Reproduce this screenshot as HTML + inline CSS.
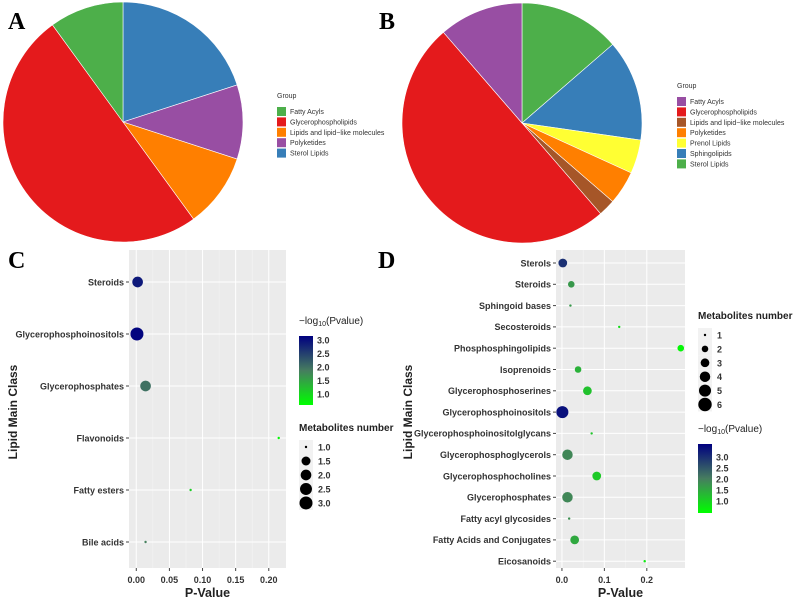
<!DOCTYPE html>
<html><head><meta charset="utf-8"><style>
body{margin:0;background:#fff;width:793px;height:601px;overflow:hidden}
svg{display:block;font-family:"Liberation Sans",sans-serif}
.lt{font-family:"Liberation Serif",serif;font-weight:bold;font-size:24px}
.tk{font-size:9px;font-weight:bold;fill:#333}
.lg{font-size:7px;fill:#333}
</style></head><body>
<svg id="s" width="793" height="601">
<text class="lt" x="8" y="29">A</text>
<text class="lt" x="379" y="29">B</text>
<text class="lt" x="8" y="268">C</text>
<text class="lt" x="378" y="268">D</text>
<g id="g"></g>
</svg>
<script>
const pieACats=["Fatty Acyls","Glycerophospholipids","Lipids and lipid\u2212like molecules","Polyketides","Sterol Lipids"];
const pieAVals=[1,5,1,1,2];
const pieAColors=["#4daf4a","#e41a1c","#ff7f00","#984ea3","#377eb8"];
const pieBCats=["Fatty Acyls","Glycerophospholipids","Lipids and lipid\u2212like molecules","Polyketides","Prenol Lipids","Sphingolipids","Sterol Lipids"];
const pieBVals=[5,22,1,2,2,6,6];
const pieBColors=["#984ea3","#e41a1c","#a65628","#ff7f00","#ffff33","#377eb8","#4daf4a"];

const cCats=["Steroids","Glycerophosphoinositols","Glycerophosphates","Flavonoids","Fatty esters","Bile acids"];
const cP=[0.002,0.001,0.014,0.215,0.082,0.014];
const cLog=[2.9,3.1,2.0,0.67,1.09,1.85];
const cN=[2,3,2,1,1,1];
const cTicks=[0,0.05,0.1,0.15,0.2];
const cTickLabels=["0.00","0.05","0.10","0.15","0.20"];

const dCats=["Sterols","Steroids","Sphingoid bases","Secosteroids","Phosphosphingolipids","Isoprenoids","Glycerophosphoserines","Glycerophosphoinositols","Glycerophosphoinositolglycans","Glycerophosphoglycerols","Glycerophosphocholines","Glycerophosphates","Fatty acyl glycosides","Fatty Acids and Conjugates","Eicosanoids"];
const dP=[0.002,0.022,0.02,0.135,0.28,0.038,0.06,0.001,0.07,0.013,0.082,0.013,0.017,0.03,0.195];
const dLog=[3.0,1.7,1.7,0.87,0.55,1.4,1.2,3.4,1.15,1.9,1.1,1.9,1.8,1.5,0.7];
const dN=[3,2,1,1,2,2,3,5,1,4,3,4,1,3,1];
const dTicks=[0,0.1,0.2];
const dTickLabels=["0.0","0.1","0.2"];

const NS="http://www.w3.org/2000/svg";
const G=document.getElementById('g');
function mk(t,a,p){const e=document.createElementNS(NS,t);for(const k in a)e.setAttribute(k,a[k]);(p||G).appendChild(e);return e;}
function txt(x,y,s,a){const e=mk('text',Object.assign({x:x,y:y},a||{}));e.textContent=s;return e;}

function pie(cx,cy,r,vals,cols,name){
  const tot=vals.reduce((a,b)=>a+b,0);let a0=0;
  for(let i=vals.length-1;i>=0;i--){
    const a1=a0+vals[i]/tot*2*Math.PI;
    const x0=cx+r*Math.sin(a0),y0=cy-r*Math.cos(a0),x1=cx+r*Math.sin(a1),y1=cy-r*Math.cos(a1);
    const p=mk('path',{d:`M${cx},${cy}L${x0},${y0}A${r},${r} 0 ${a1-a0>Math.PI?1:0} 1 ${x1},${y1}Z`,fill:cols[i],stroke:'#fff','stroke-width':0.6});
    
    
    a0=a1;
  }
}
function legend(x,y,cats,cols,name){
  const t=txt(x,y,'Group',{class:'lg','font-size':'7.5'});
  
  
  cats.forEach((c,i)=>{
    const yy=y+9+i*10.4;
    const r=mk('rect',{x:x,y:yy,width:9,height:9,fill:cols[i]});
    
    
    const tt=txt(x+13,yy+7,c,{class:'lg'});
    
    
  });
}
pie(123,122,120,pieAVals,pieAColors,'pie-a');
legend(277,98,pieACats,pieAColors,'pie-a');
pie(522,123,120,pieBVals,pieBColors,'pie-b');
legend(677,88,pieBCats,pieBColors,'pie-b');

function col(v,lo,hi){
  let t=Math.max(0,Math.min(1,(v-lo)/(hi-lo)));
  const st=[[0,[0,255,0]],[0.5,[70,125,95]],[1,[0,0,128]]];
  let a=st[0],b=st[1];if(t>0.5){a=st[1];b=st[2];}
  const u=(t-a[0])/(b[0]-a[0]);
  const c=a[1].map((v,i)=>Math.round(v+(b[1][i]-v)*u));
  return `rgb(${c})`;
}

function dot(o){
  const {x0,x1,y0,y1,xmin,xmax,cats,P,L,N,ticks,tl,rOf,lo,hi,name,rowTop,rowStep,fs}=o;
  const sx=v=>x0+(v-xmin)/(xmax-xmin)*(x1-x0);
  const bg=mk('rect',{x:x0,y:y0,width:x1-x0,height:y1-y0,fill:'#ebebeb'});
  
  
  for(let i=0;i<ticks.length;i++){
    if(i<ticks.length-1){const m=(ticks[i]+ticks[i+1])/2;mk('line',{x1:sx(m),x2:sx(m),y1:y0,y2:y1,stroke:'#f5f5f5','stroke-width':0.5});}
    mk('line',{x1:sx(ticks[i]),x2:sx(ticks[i]),y1:y0,y2:y1,stroke:'#fff','stroke-width':1});
    mk('line',{x1:sx(ticks[i]),x2:sx(ticks[i]),y1:y1,y2:y1+3,stroke:'#444'});
    const t=txt(sx(ticks[i]),y1+15,tl[i],{class:'tk','text-anchor':'middle','font-size':'10'});
    
    
  }
  cats.forEach((c,i)=>{
    const y=rowTop+i*rowStep;
    mk('line',{x1:x0,x2:x1,y1:y,y2:y,stroke:'#fff','stroke-width':1});
    mk('line',{x1:x0-3,x2:x0,y1:y,y2:y,stroke:'#444'});
    const t=txt(x0-5,y+3.3,c,{class:'tk','text-anchor':'end','font-size':fs});
    
    
  });
  cats.forEach((c,i)=>{
    const y=rowTop+i*rowStep;
    const p=mk('circle',{cx:sx(P[i]),cy:y,r:rOf(N[i]),fill:col(L[i],lo,hi)});
    
    
  });
  const xt=txt((x0+x1)/2,y1+29,'P-Value',{'font-size':'12.5','font-weight':'bold','text-anchor':'middle',fill:'#222'});
  
  
}
function colorbar(x,y,h,lo,hi,labs,name){
  const id=name+'grad';
  const d=mk('defs',{});const lg=mk('linearGradient',{id:id,x1:0,y1:1,x2:0,y2:0},d);
  for(let k=0;k<=10;k++)mk('stop',{offset:k/10,'stop-color':col(lo+(hi-lo)*k/10,lo,hi)},lg);
  const t=txt(x,y-8,'\u2212log',{'font-size':'10',fill:'#222'});
  const s=mk('tspan',{'font-size':'7',dy:'2'},t);s.textContent='10';
  const s2=mk('tspan',{dy:'-2'},t);s2.textContent='(Pvalue)';
  
  
  const r=mk('rect',{x:x,y:y+4,width:14,height:h,fill:`url(#${id})`});
  
  
  labs.forEach(v=>{
    const yy=y+4+h-(v-lo)/(hi-lo)*h;
    const l=txt(x+18,yy+3.5,v.toFixed(1),{class:'tk','font-size':'9.5'});
    
    
  });
}
function sizeLegend(x,y,vals,labs,rOf,step,name){
  const t=txt(x,y,'Metabolites number',{'font-size':'10','font-weight':'bold',fill:'#222'});
  
  
  vals.forEach((v,i)=>{
    const yy=y+16+i*step;
    mk('rect',{x:x,y:yy-step/2,width:14,height:step,fill:'#f2f2f2'});
    const c=mk('circle',{cx:x+7,cy:yy,r:rOf(v),fill:'#000'});
    
    
    const l=txt(x+19,yy+3.5,labs[i],{class:'tk','font-size':'9.5'});
    
    
  });
}
const rC=n=>n<=1?1.2:2.5+4*Math.sqrt((n-1)/2);
dot({x0:129,x1:286,y0:250,y1:568,xmin:-0.011,xmax:0.226,cats:cCats,P:cP,L:cLog,N:cN,ticks:cTicks,tl:cTickLabels,rOf:rC,lo:0.6,hi:3.15,name:'panel-c',rowTop:282,rowStep:52,fs:'8.8'});
let yt=txt(0,0,'Lipid Main Class',{'font-size':'12','font-weight':'bold','text-anchor':'middle',fill:'#222',transform:'translate(17,412) rotate(-90)'});


colorbar(299,332,69,0.6,3.15,[1,1.5,2,2.5,3],'panel-c');
sizeLegend(299,431,[1,1.5,2,2.5,3],["1.0","1.5","2.0","2.5","3.0"],rC,14,'panel-c');

const rD=n=>n<=1?1.2:1.2+5.5*Math.pow((n-1)/5,0.6);
dot({x0:556,x1:685,y0:250,y1:568,xmin:-0.014,xmax:0.29,cats:dCats,P:dP,L:dLog,N:dN,ticks:dTicks,tl:dTickLabels,rOf:rD,lo:0.45,hi:3.6,name:'panel-d',rowTop:263,rowStep:21.3,fs:'8.5'});
yt=txt(0,0,'Lipid Main Class',{'font-size':'12','font-weight':'bold','text-anchor':'middle',fill:'#222',transform:'translate(412,412) rotate(-90)'});


sizeLegend(698,319,[1,2,3,4,5,6],["1","2","3","4","5","6"],rD,13.9,'panel-d');
colorbar(698,440,69,0.45,3.6,[1,1.5,2,2.5,3],'panel-d');
</script>
</body></html>
